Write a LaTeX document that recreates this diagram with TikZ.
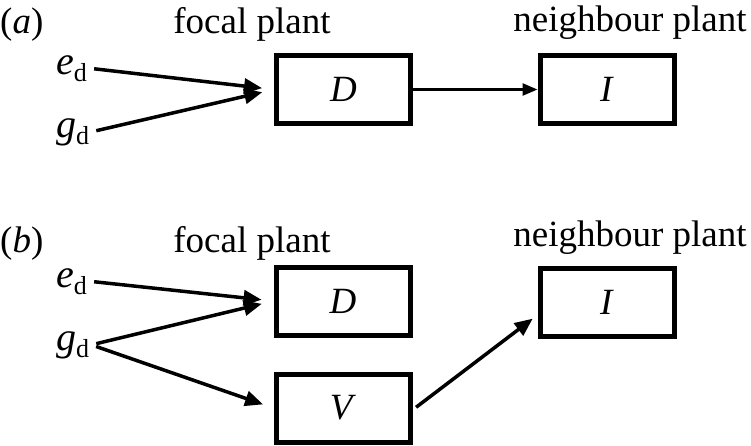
\documentclass[tikz,border=0pt]{standalone}
\usepackage{fontspec}
\setmainfont{Liberation Serif}
\usetikzlibrary{arrows.meta}
\newcommand\mysubd{\raisebox{-7pt}{\fontsize{26}{26}\selectfont d}}
\begin{document}
\begin{tikzpicture}[x=1pt,y=-1pt,
  every node/.style={font=\fontsize{37}{42}\selectfont},
  box/.style={draw, line width=5pt, minimum width=134pt, minimum height=68pt, inner sep=0pt},
  hdr/.style={anchor=base, inner sep=0pt},
  var/.style={anchor=base west, inner sep=2pt, font=\fontsize{40}{44}\selectfont},
  arr/.style={line width=3.5pt, -{Triangle[length=18pt,width=15pt]}},
  thinarr/.style={line width=2.5pt, -{Triangle[length=15pt,width=12pt]}}]
\useasboundingbox (0,0) rectangle (751,445);
% panel (a)
\node[hdr,anchor=base west] (la) at (0,33) {(\textit{a})};
\node[hdr] (fa) at (252,33) {focal plant};
\node[hdr] (na) at (630,31) {neighbour plant};
\node[var] (ea) at (54,74) {\textit{e}\mysubd};
\node[var] (ga) at (54,137) {\textit{g}\mysubd};
\node[box] (Da) at (343.5,89.5) {\textit{D}};
\node[box] (Ia) at (607,89.5) {\textit{I}};
\draw[arr, shorten <=5pt, shorten >=12pt] (ea.east) -- (Da.west);
\draw[arr, shorten <=5pt, shorten >=12pt] (ga.east) -- (Da.west);
\draw[thinarr] (Da.east) -- (Ia.west);
% panel (b)
\node[hdr,anchor=base west] (lb) at (0,252) {(\textit{b})};
\node[hdr] (fb) at (252,252) {focal plant};
\node[hdr] (nb) at (630,246) {neighbour plant};
\node[var] (eb) at (54,287) {\textit{e}\mysubd};
\node[var] (gb) at (54,350) {\textit{g}\mysubd};
\node[box] (Db) at (343,301) {\textit{D}};
\node[box] (Vb) at (343,408) {\textit{V}};
\node[box] (Ib) at (607,302) {\textit{I}};
\draw[arr, shorten <=5pt, shorten >=12pt] (eb.east) -- (Db.west);
\draw[arr, shorten <=5pt, shorten >=12pt] (gb.east) -- (Db.west);
\draw[arr, shorten <=5pt, shorten >=11pt] (gb.east) -- (Vb.west);
\draw[arr, shorten <=4.5pt, shorten >=6pt] ([yshift=-2pt]Vb.east) -- ([yshift=-13pt]Ib.west);
\end{tikzpicture}
\end{document}
